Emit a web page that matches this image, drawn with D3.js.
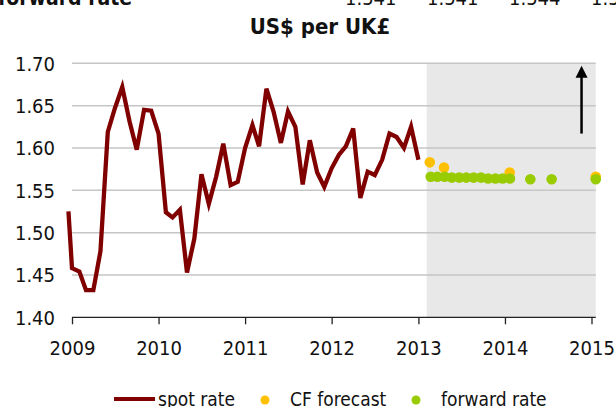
<!DOCTYPE html>
<html>
<head>
<meta charset="utf-8">
<script src="https://cdn.jsdelivr.net/npm/d3@7"></script>
<style>
  body { margin: 0; background: #fff; }
  svg text { font-family: "DejaVu Sans Condensed", "DejaVu Sans", sans-serif; font-stretch: condensed; fill: #111; }
</style>
</head>
<body>
<div id="chart"></div>
<script>
// data
var spotLead = { date: "2008-12-17", value: 1.525 };
var spotValues = [
  1.458, 1.454, 1.432, 1.432, 1.478, 1.619, 1.647, 1.672, 1.631, 1.598, 1.645, 1.644,
  1.617, 1.524, 1.518, 1.527, 1.453, 1.493, 1.569, 1.534, 1.566, 1.605, 1.556, 1.560,
  1.600, 1.627, 1.602, 1.670, 1.643, 1.606, 1.643, 1.625, 1.557, 1.609, 1.571, 1.554,
  1.576, 1.592, 1.602, 1.623, 1.541, 1.572, 1.568, 1.586, 1.617, 1.613, 1.600, 1.625,
  1.586
];
var forwardDates = ["2013-02-22", "2013-03-22", "2013-04-22", "2013-05-22", "2013-06-22", "2013-07-22",
  "2013-08-22", "2013-09-22", "2013-10-22", "2013-11-22", "2013-12-22", "2014-01-22",
  "2014-04-18", "2014-07-17", "2015-01-19"];
var forwardValues = [1.566, 1.566, 1.566, 1.565, 1.565, 1.565, 1.565, 1.565, 1.564, 1.564, 1.564, 1.564,
  1.563, 1.563, 1.563];
var cfDates = ["2013-02-18", "2013-04-19", "2014-01-21", "2015-01-19"];
var cfValues = [1.583, 1.577, 1.571, 1.566];
var yTicks = [1.40, 1.45, 1.50, 1.55, 1.60, 1.65, 1.70];
var xYears = [2009, 2010, 2011, 2012, 2013, 2014, 2015];
var shadeFrom = "2013-02-05", shadeTo = "2015-01-19";
var arrowDate = "2014-11-20", arrowFrom = 1.617, arrowTo = 1.697;
var topLabels = ["1.541", "1.541", "1.544", "1.5"];

var svgWidth = 616, svgHeight = 407;
var parse = d3.timeParse("%Y-%m-%d");

var svg = d3.select("#chart").append("svg")
  .attr("width", svgWidth)
  .attr("height", svgHeight);

var x = d3.scaleTime()
  .domain([new Date(2009, 0, 1), new Date(2015, 0, 1)])
  .range([72, 591.5]);
var y = d3.scaleLinear()
  .domain([1.40, 1.70])
  .range([317.3, 63.3]);
var plotLeft = 72, plotRight = x(parse(shadeTo));

// cut-off table row at the very top
svg.append("text").attr("x", -2).attr("y", 5)
  .style("font-weight", "bold").style("font-size", "21px").text("forward rate");
svg.selectAll(".toplab").data(topLabels).enter().append("text")
  .attr("x", function (d, i) { return 345 + i * 82; })
  .attr("y", 5).style("font-size", "20px").text(function (d) { return d; });

// title
svg.append("text").attr("x", 320).attr("y", 34)
  .attr("text-anchor", "middle")
  .style("font-weight", "bold").style("font-size", "22px")
  .text("US$ per UK£");

// forecast shading
svg.append("rect")
  .attr("x", x(parse(shadeFrom)))
  .attr("y", y(1.70))
  .attr("width", plotRight - x(parse(shadeFrom)))
  .attr("height", y(1.40) - y(1.70))
  .attr("fill", "#e8e8e8");

// gridlines
svg.append("g").selectAll("line")
  .data(yTicks.filter(function (d) { return d > 1.40; }))
  .enter().append("line")
  .attr("x1", plotLeft).attr("x2", plotRight)
  .attr("y1", function (d) { return y(d); })
  .attr("y2", function (d) { return y(d); })
  .attr("stroke", "#c6c6c6").attr("stroke-width", 1.5);

// y labels
svg.append("g").selectAll("text")
  .data(yTicks).enter().append("text")
  .attr("x", 55)
  .attr("y", function (d) { return y(d); })
  .attr("dy", "0.36em")
  .attr("text-anchor", "end")
  .style("font-size", "20px")
  .text(function (d) { return d.toFixed(2); });

// x axis
var xAxis = d3.axisBottom(x)
  .tickValues(xYears.map(function (yr) { return new Date(yr, 0, 1); }))
  .tickFormat(d3.timeFormat("%Y"))
  .tickSize(7)
  .tickPadding(17);
var gx = svg.append("g")
  .attr("transform", "translate(0," + y(1.40) + ")")
  .call(xAxis);
gx.select(".domain").attr("d", "M" + plotLeft + ",0H" + plotRight).attr("stroke", "#222").attr("stroke-width", 1.3);
gx.selectAll(".tick line").attr("stroke", "#222").attr("stroke-width", 1.3);
gx.selectAll(".tick text")
  .style("font-family", "'DejaVu Sans Condensed', 'DejaVu Sans', sans-serif")
  .style("font-size", "20px").attr("fill", "#111");

// spot line
var spot = [{ date: parse(spotLead.date), value: spotLead.value }].concat(
  spotValues.map(function (v, i) { return { date: new Date(2009, i, 1), value: v }; }));
var line = d3.line()
  .x(function (d) { return x(d.date); })
  .y(function (d) { return y(d.value); });
svg.append("path").datum(spot)
  .attr("d", line)
  .attr("fill", "none")
  .attr("stroke", "#800000")
  .attr("stroke-width", 4.3)
  .attr("stroke-linejoin", "miter");

// CF forecast dots
svg.append("g").selectAll("circle")
  .data(cfDates).enter().append("circle")
  .attr("cx", function (d) { return x(parse(d)); })
  .attr("cy", function (d, i) { return y(cfValues[i]); })
  .attr("r", 5.3)
  .attr("fill", "#ffc000");

// forward rate dots
svg.append("g").selectAll("circle")
  .data(forwardDates).enter().append("circle")
  .attr("cx", function (d) { return x(parse(d)); })
  .attr("cy", function (d, i) { return y(forwardValues[i]); })
  .attr("r", 5.3)
  .attr("fill", "#99cc00");

// arrow
var ax = x(parse(arrowDate));
svg.append("line")
  .attr("x1", ax).attr("x2", ax)
  .attr("y1", y(arrowFrom)).attr("y2", y(arrowTo) + 8)
  .attr("stroke", "#000").attr("stroke-width", 2.5);
svg.append("path")
  .attr("d", "M" + ax + "," + y(arrowTo) + "L" + (ax - 6) + "," + (y(arrowTo) + 12) + "L" + (ax + 6) + "," + (y(arrowTo) + 12) + "Z")
  .attr("fill", "#000");

// legend
var lg = svg.append("g").attr("transform", "translate(0,399)");
lg.append("line").attr("x1", 114).attr("x2", 155).attr("y1", 0).attr("y2", 0)
  .attr("stroke", "#800000").attr("stroke-width", 4);
lg.append("text").attr("x", 158).attr("y", 7).style("font-size", "19px").text("spot rate");
lg.append("circle").attr("cx", 265).attr("cy", 1).attr("r", 4.5).attr("fill", "#ffc000");
lg.append("text").attr("x", 290).attr("y", 7).style("font-size", "19px").text("CF forecast");
lg.append("circle").attr("cx", 416).attr("cy", 1).attr("r", 4.5).attr("fill", "#99cc00");
lg.append("text").attr("x", 441).attr("y", 7).style("font-size", "19px").text("forward rate");
</script>
</body>
</html>
